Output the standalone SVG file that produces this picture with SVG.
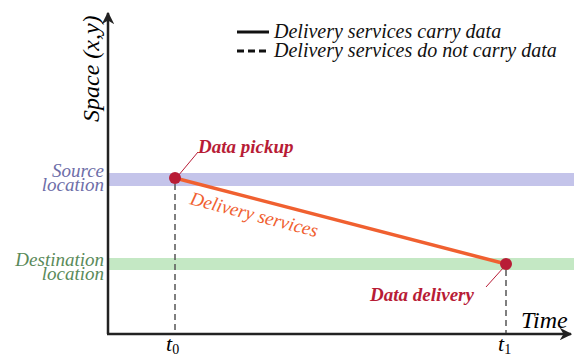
<svg xmlns="http://www.w3.org/2000/svg" width="574" height="358" viewBox="0 0 574 358">
<defs>
<marker id="arr" viewBox="0 0 10 10" refX="9" refY="5" markerWidth="5" markerHeight="5" orient="auto" markerUnits="strokeWidth"><path d="M0,0 L10,5 L0,10 L3,5 Z" fill="#222"/></marker>
<style>
.t{font-family:"Liberation Serif","Times New Roman",serif;font-style:italic}
.ax{stroke:#222;stroke-width:2.5;fill:none}
.dash{stroke:#555;stroke-width:1.5;stroke-dasharray:6,4;fill:none}
.pt{fill:#b81c36}
.lead{stroke:#b81c36;stroke-width:1;fill:none}
.lbl{fill:#b81c36;font-weight:bold;font-size:19px}
</style>
</defs>
<rect width="574" height="358" fill="#fff"/>
<g id="bands">
<rect x="109" y="173" width="465" height="13" fill="#c4c4ea"/>
<rect x="109" y="258" width="465" height="12" fill="#c4e8c4"/>
</g>
<g id="axes">
<line class="ax" x1="108" y1="334" x2="108" y2="13" marker-end="url(#arr)"/>
<line class="ax" x1="107" y1="334" x2="571" y2="334" marker-end="url(#arr)"/>
<text class="t" x="0" y="0" font-size="24" transform="translate(99,122) rotate(-90)">Space (x,y)</text>
<text class="t" x="521" y="328" font-size="24">Time</text>
<text class="t" x="166" y="351" font-size="22">t<tspan font-size="14" dy="3" font-style="normal">0</tspan></text>
<text class="t" x="498" y="351" font-size="22">t<tspan font-size="14" dy="3" font-style="normal">1</tspan></text>
</g>
<g id="locations">
<text class="t" x="104" y="177" font-size="19" fill="#6e6ea8" text-anchor="end">Source</text>
<text class="t" x="104" y="191" font-size="19" fill="#6e6ea8" text-anchor="end">location</text>
<text class="t" x="104" y="266" font-size="19" fill="#5a8a5a" text-anchor="end">Destination</text>
<text class="t" x="104" y="280" font-size="19" fill="#5a8a5a" text-anchor="end">location</text>
</g>
<g id="legend">
<line x1="237" y1="32" x2="269" y2="32" stroke="#111" stroke-width="3"/>
<text class="t" x="274" y="38" font-size="20" fill="#111">Delivery services carry data</text>
<line x1="237" y1="51" x2="269" y2="51" stroke="#111" stroke-width="3" stroke-dasharray="7,4"/>
<text class="t" x="274" y="57" font-size="20" fill="#111">Delivery services do not carry data</text>
</g>
<g id="connectors">
<line class="dash" x1="175" y1="184" x2="175" y2="333"/>
<line class="dash" x1="506" y1="270" x2="506" y2="333"/>
<line x1="175" y1="178" x2="506" y2="264" stroke="#f06030" stroke-width="3.5"/>
<line class="lead" x1="178" y1="176" x2="198" y2="152"/>
<line class="lead" x1="504" y1="267" x2="486" y2="287"/>
<text class="t" font-size="19" fill="#f06030" transform="translate(189,204) rotate(14.6)">Delivery services</text>
</g>
<g id="pickup">
<circle class="pt" cx="175" cy="178" r="6"/>
<text class="t lbl" x="198" y="153">Data pickup</text>
</g>
<g id="delivery">
<circle class="pt" cx="506" cy="264" r="6"/>
<text class="t lbl" x="370" y="301">Data delivery</text>
</g>
</svg>
